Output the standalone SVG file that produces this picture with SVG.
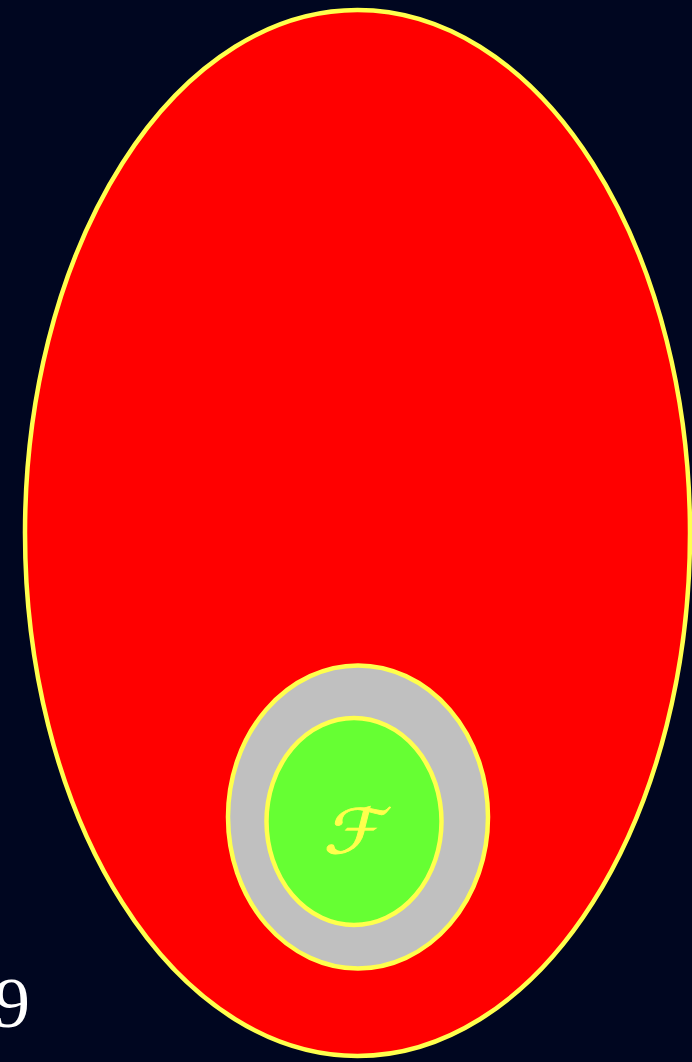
<svg xmlns="http://www.w3.org/2000/svg" width="692" height="1062" viewBox="0 0 692 1062">
<style>
.ring{stroke:#ffff4d;stroke-width:4.5}
.lbl{font-family:"DejaVu Sans","Noto Sans",sans-serif}
</style>
<rect width="692" height="1062" fill="#000620"/>
<g id="outer"><ellipse class="ring" cx="357.5" cy="533" rx="332.5" ry="523" fill="#ff0000"/></g>
<g id="middle"><ellipse class="ring" cx="358" cy="817" rx="130" ry="151.5" fill="#c0c0c0"/></g>
<g id="inner"><ellipse class="ring" cx="354" cy="821.5" rx="87.5" ry="103.5" fill="#66ff33"/>
<text class="lbl" transform="translate(352,853) skewX(-14) scale(1.2,1)" x="0" y="0" font-size="62" text-anchor="middle" fill="#ffff4d" stroke="#ffff4d" stroke-width="0.8">ℱ</text></g>
<g id="connectors"></g>
<text x="-6" y="1027" font-family="'Liberation Serif',serif" font-size="72" fill="#ffffff">9</text>
</svg>
